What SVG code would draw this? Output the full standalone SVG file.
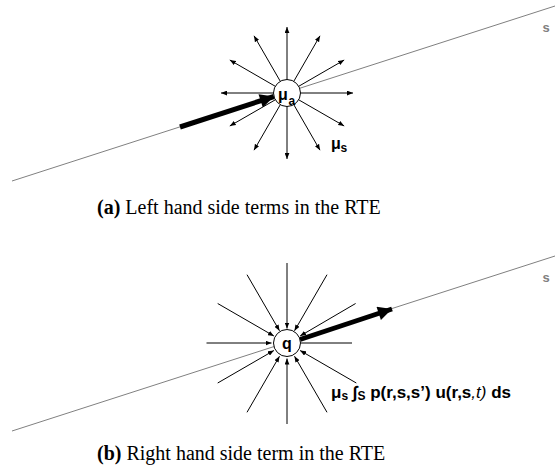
<svg xmlns="http://www.w3.org/2000/svg" width="555" height="474" viewBox="0 0 555 474">
<defs>
<marker id="ah" viewBox="0 0 10 8" refX="10" refY="4" markerWidth="6" markerHeight="5" markerUnits="userSpaceOnUse" orient="auto"><path d="M0,0 L10,4 L0,8 z" fill="#000"/></marker>
<marker id="big" viewBox="0 0 10 10" refX="10" refY="5" markerWidth="17" markerHeight="14" markerUnits="userSpaceOnUse" orient="auto"><path d="M0,0 L10,5 L0,10 z" fill="#000"/></marker>
</defs>
<style>
.ray{stroke:#000;stroke-width:1;fill:none}
.ray-a{marker-end:url(#ah)}
.beam{stroke:#808080;stroke-width:1;fill:none}
.thick{stroke:#000;stroke-width:5;fill:none;marker-end:url(#big)}
.node{fill:#fff;stroke:#000;stroke-width:1}
.lbl{font-family:"Liberation Sans",Arial,sans-serif;font-weight:bold;fill:#000}
.s{font-family:"Liberation Sans",Arial,sans-serif;font-weight:bold;font-size:13px;fill:#808080}
.cap{font-family:"Liberation Serif","Times New Roman",serif;font-size:20px;fill:#000}
</style>

<g id="connectors">
<line class="beam" x1="12" y1="181" x2="555" y2="6"/>
<line class="beam" x1="12" y1="431" x2="555" y2="256"/>
<g class="ray-a">
<line class="ray" x1="300.5" y1="93" x2="353" y2="93"/>
<line class="ray" x1="298.7" y1="86.3" x2="344.2" y2="60"/>
<line class="ray" x1="293.8" y1="81.3" x2="320" y2="35.8"/>
<line class="ray" x1="287" y1="79.5" x2="287" y2="27"/>
<line class="ray" x1="280.3" y1="81.3" x2="254" y2="35.8"/>
<line class="ray" x1="275.3" y1="86.3" x2="229.8" y2="60"/>
<line class="ray" x1="273.5" y1="93" x2="221" y2="93"/>
<line class="ray" x1="275.3" y1="99.8" x2="229.8" y2="126"/>
<line class="ray" x1="280.3" y1="104.7" x2="254" y2="150.2"/>
<line class="ray" x1="287" y1="106.5" x2="287" y2="159"/>
<line class="ray" x1="293.8" y1="104.7" x2="320" y2="150.2"/>
<line class="ray" x1="298.7" y1="99.8" x2="344.2" y2="126"/>
</g>
<g class="ray-a">
<line class="ray" x1="355.6" y1="303.5" x2="300.1" y2="336"/>
<line class="ray" x1="327" y1="274.7" x2="294.5" y2="330.8"/>
<line class="ray" x1="287" y1="263" x2="287" y2="328.5"/>
<line class="ray" x1="247" y1="274.7" x2="279.5" y2="330.8"/>
<line class="ray" x1="217.7" y1="303.5" x2="273.9" y2="336"/>
<line class="ray" x1="206.5" y1="343" x2="271.5" y2="343"/>
<line class="ray" x1="217.7" y1="383" x2="273.9" y2="350.5"/>
<line class="ray" x1="247" y1="412.3" x2="279.5" y2="356.2"/>
<line class="ray" x1="287" y1="424" x2="287" y2="358.5"/>
<line class="ray" x1="327" y1="412.3" x2="294.5" y2="356.2"/>
<line class="ray" x1="356.3" y1="383" x2="300.1" y2="350.5"/>
</g>
<line class="ray" x1="352" y1="343" x2="301" y2="343"/>
<line class="thick" x1="180" y1="127" x2="274" y2="96.5"/>
<line class="thick" x1="300" y1="339.5" x2="392" y2="309"/>
</g>

<g id="node-mua">
<circle class="node" cx="287" cy="93" r="13.5"/>
<text class="lbl" x="278" y="100" font-size="16">μ</text>
<text class="lbl" x="288.5" y="105" font-size="12">a</text>
</g>

<g id="label-mus">
<text class="lbl" x="331" y="149" font-size="16">μ</text>
<text class="lbl" x="340.5" y="152" font-size="12">s</text>
</g>

<g id="label-s-top"><text class="s" x="546" y="31.5" text-anchor="middle">s</text></g>
<g id="label-s-bottom"><text class="s" x="546" y="281.5" text-anchor="middle">s</text></g>

<g id="node-q">
<circle class="node" cx="287" cy="343" r="13.5"/>
<text class="lbl" x="287" y="349" font-size="16" text-anchor="middle">q</text>
</g>

<g id="label-formula">
<text class="lbl" x="331" y="398" font-size="17">μ<tspan font-size="12" dy="2">s</tspan><tspan dy="-2"> ∫</tspan><tspan font-size="12" dy="2">S</tspan><tspan dy="-2"> p(r,s,s’) u(r,s</tspan><tspan font-weight="normal" font-style="italic">,t)</tspan> ds</text>
</g>

<g id="caption-a">
<text class="cap" x="97" y="214"><tspan font-weight="bold">(a)</tspan> Left hand side terms in the RTE</text>
</g>
<g id="caption-b">
<text class="cap" x="97" y="460"><tspan font-weight="bold">(b)</tspan> Right hand side term in the RTE</text>
</g>
</svg>
